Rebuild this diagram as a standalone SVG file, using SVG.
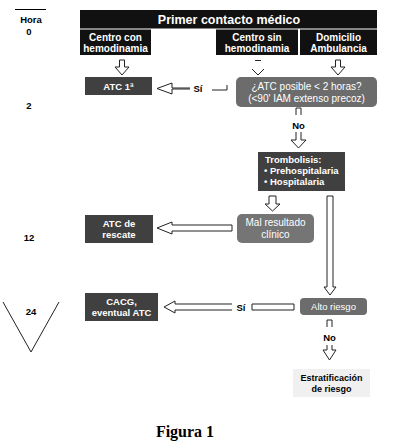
<svg xmlns="http://www.w3.org/2000/svg" width="410" height="444" viewBox="0 0 410 444">
<style>
.t{font-family:"Liberation Sans",Arial,sans-serif;font-size:9.5px;fill:#fff;text-anchor:middle}
.b{font-weight:bold}
.s{font-size:10px}
.dark{fill:#404040}
.blk{fill:#111}
.gr{fill:#6c6c6c}
.ha{fill:#fff;stroke:#222;stroke-width:1}
.ln{fill:none;stroke:#222;stroke-width:1}
.lab{font-family:"Liberation Sans",Arial,sans-serif;font-size:9.5px;font-weight:bold;fill:#000;text-anchor:middle}
</style>
<rect width="410" height="444" fill="#fff"/>
<g id="timeline">
<line x1="15" y1="9.5" x2="46" y2="9.5" stroke="#000" stroke-width="1"/>
<text class="lab" x="31" y="23">Hora</text>
<text class="lab" x="29" y="35">0</text>
<text class="lab" x="29" y="109">2</text>
<text class="lab" x="29" y="241">12</text>
<text class="lab" x="31" y="315">24</text>
<polyline class="ln" points="3,302 31,352 59,302"/>
</g>
<g id="primer">
<rect class="blk" x="80" y="10" width="297" height="18.5"/>
<text class="t b" x="229" y="23.5" style="font-size:12.5px">Primer contacto médico</text>
</g>
<g id="centro-con">
<rect class="blk" x="80" y="29.5" width="71" height="25.5"/>
<text class="t b s" x="115.5" y="41">Centro con</text>
<text class="t b s" x="115.5" y="52">hemodinamia</text>
</g>
<g id="centro-sin">
<rect class="blk" x="216" y="29.5" width="82" height="25.5"/>
<text class="t b s" x="257" y="41">Centro sin</text>
<text class="t b s" x="257" y="52">hemodinamia</text>
</g>
<g id="domicilio">
<rect class="blk" x="300" y="29.5" width="77" height="25.5"/>
<text class="t b s" x="338.5" y="41">Domicilio</text>
<text class="t b s" x="338.5" y="52">Ambulancia</text>
</g>
<g id="atc1">
<rect class="dark" x="85" y="77" width="67" height="18"/>
<text class="t b" x="118.5" y="89.5">ATC 1ª</text>
</g>
<g id="decision">
<rect class="gr" x="236" y="77" width="141" height="30" rx="5"/>
<text class="t s" x="306.5" y="89.5">¿ATC posible &lt; 2 horas?</text>
<text class="t s" x="306.5" y="101.5">(&lt;90' IAM extenso precoz)</text>
</g>
<g id="trombolisis">
<rect class="dark" x="258" y="152" width="87" height="39"/>
<text class="t b" x="265" y="163" style="text-anchor:start">Trombolisis:</text>
<text class="t b" x="264" y="174" style="text-anchor:start">• Prehospitalaria</text>
<text class="t b" x="264" y="185" style="text-anchor:start">• Hospitalaria</text>
</g>
<g id="mal">
<rect fill="#757575" x="237" y="214" width="77" height="29" rx="5"/>
<text class="t s" x="275.5" y="226">Mal resultado</text>
<text class="t s" x="275.5" y="237.5">clínico</text>
</g>
<g id="rescate">
<rect class="dark" x="85" y="215" width="68" height="28"/>
<text class="t b" x="119" y="226.5">ATC de</text>
<text class="t b" x="119" y="238">rescate</text>
</g>
<g id="alto">
<rect class="gr" x="300" y="298" width="67" height="17" rx="4"/>
<text class="t" x="333.5" y="310">Alto riesgo</text>
</g>
<g id="cacg">
<rect class="dark" x="85" y="293" width="73" height="28"/>
<text class="t b" x="121.5" y="304.5">CACG,</text>
<text class="t b" x="121.5" y="316">eventual ATC</text>
</g>
<g id="estratificacion">
<rect fill="#f0f0f0" x="293" y="369" width="77" height="28"/>
<text class="lab" x="331.5" y="380.5" style="font-size:9px">Estratificación</text>
<text class="lab" x="331.5" y="392" style="font-size:9px">de riesgo</text>
</g>
<g id="connectors">
<path class="ha" d="M119.5,60 H124.5 V67 H129 L122,75 L115,67 H119.5 Z"/>
<path class="ha" d="M335.5,60 H340.5 V67 H345 L338,75 L331,67 H335.5 Z"/>
<line x1="255" y1="60.5" x2="261" y2="60.5" stroke="#222"/>
<polyline class="ln" points="252,69 258,75 264,69"/>
<path class="ln" d="M190,88 H172 V83 L157,88.5 L172,94 V89 H190"/>
<text class="lab" x="198" y="92">Sí</text>
<polyline class="ln" points="212,90 227,90 227,85"/>
<polyline class="ln" points="296,115 296,108 301,108 301,115"/>
<text class="lab" x="298.5" y="129">No</text>
<path class="ha" d="M296,132 V140 H291 L298.5,148 L306,140 H301 V132"/>
<path class="ha" d="M269,196 H276 V204 H280 L272.5,211 L265,204 H269 Z"/>
<path class="ha" d="M327,196 H333 V287 H336 L330,295 L324,287 H327 Z"/>
<path class="ha" d="M232,225 V231 H172 V234 L157,228 L172,222 V225 Z"/>
<path class="ln" d="M232,304 H175 V301 L164,307 L175,313 V310 H232"/>
<text class="lab" x="241" y="310.5">Sí</text>
<path class="ln" d="M252,304 H294 V310 H252 Z"/>
<polyline class="ln" points="327,327 327,320 332,320 332,327"/>
<text class="lab" x="329.5" y="341">No</text>
<path class="ha" d="M327,345 V350 H323 L329.5,360 L336,350 H332 V345"/>
</g>
<text x="185" y="437" font-family="'Liberation Serif','Times New Roman',serif" font-size="16" font-weight="bold" text-anchor="middle" fill="#000">Figura 1</text>
</svg>
